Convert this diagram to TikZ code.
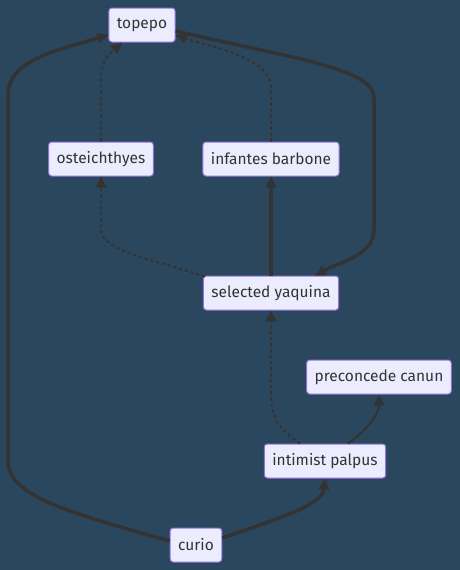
\documentclass[tikz,border=0pt]{standalone}
\usepackage{fontspec}
\setmainfont{Fira Sans}
\usepackage{tikz}
\usetikzlibrary{arrows.meta}
\definecolor{canvas}{HTML}{2A475E}
\definecolor{nodefill}{HTML}{ECECFF}
\definecolor{nodeline}{HTML}{9370DB}
\definecolor{ink}{HTML}{333333}
\tikzset{
  box/.style={draw=nodeline, fill=nodefill, rounded corners=3pt, line width=1pt, text=ink,
              font=\fontsize{15.5}{18}\selectfont, inner xsep=8pt, inner ysep=0pt, minimum height=34pt},
  link/.style={-{Triangle[length=11pt, width=11pt, line width=0pt]}, draw=ink, line width=2pt},
  boldlink/.style={link, line width=3.5pt},
  dotlink/.style={link, dash pattern=on 3pt off 3pt},
}

\begin{document}
\begin{tikzpicture}[x=1pt, y=-1pt]
  \fill[canvas] (0,0) rectangle (460,570);
  \node[box] (topepo) at (142,25) {topepo};
  \node[box] (osteich) at (101,159) {osteichthyes};
  \node[box] (infantes) at (271,159) {infantes barbone};
  \node[box] (selected) at (271,293) {selected yaquina};
  \node[box] (preconcede) at (379,377) {preconcede canun};
  \node[box] (intimist) at (325,461) {intimist palpus};
  \node[box] (curio) at (196,545) {curio};
  \draw[boldlink] ([yshift=4pt]curio.west) .. controls (60,510) and (8,495) .. (8,460)
    -- (8,95) .. controls (8,62) and (50,52) .. ([yshift=-10pt]topepo.west);
  \draw[boldlink] ([yshift=7pt]curio.east) .. controls (280,518) and (322,505) .. (intimist.south);
  \draw[link] ([xshift=23pt]intimist.north) .. controls (370,428) and (379,412) .. (preconcede.south);
  \draw[dotlink] ([xshift=-25pt]intimist.north) .. controls (280,430) and (271,418) .. (271,395)
    -- (selected.south);
  \draw[dotlink] ([xshift=2pt,yshift=-1pt]selected.north west) .. controls (150,258) and (101,252) .. (101,228)
    -- (osteich.south);
  \draw[boldlink] (selected.north) -- (infantes.south);
  \draw[dotlink] (osteich.north) -- (101,78) .. controls (101,58) and (114,50) .. ([xshift=-20pt]topepo.south);
  \draw[dotlink] (infantes.north) -- (271,88) .. controls (271,58) and (215,48) .. ([yshift=-10pt]topepo.east);
  \draw[boldlink] ([yshift=-6pt]topepo.east) .. controls (290,58) and (374,68) .. (374,98)
    -- (374,230) .. controls (374,255) and (340,262) .. ([xshift=44pt]selected.north);
\end{tikzpicture}
\end{document}
